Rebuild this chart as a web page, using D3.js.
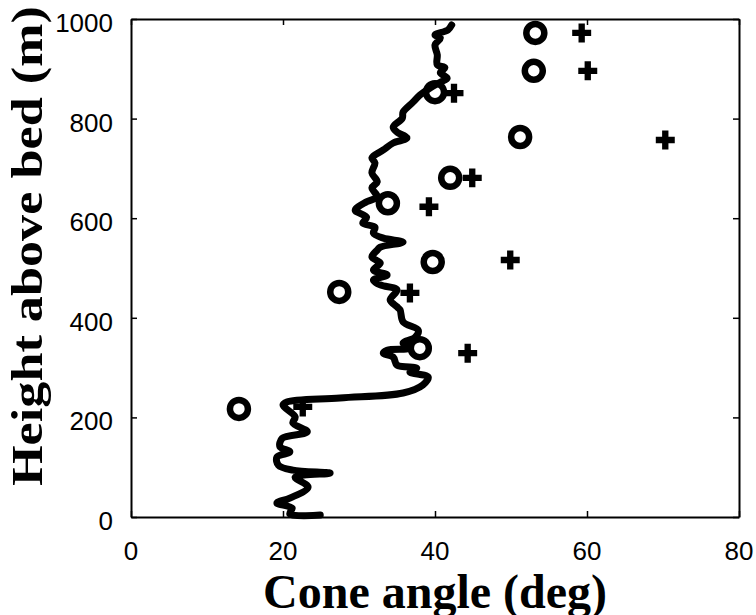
<!DOCTYPE html>
<html>
<head>
<meta charset="utf-8">
<script src="https://cdn.jsdelivr.net/npm/d3@7"></script>
<style>
  body { margin: 0; background: #fff; }
  .tick-label { font-family: "Liberation Sans", Arial, sans-serif; font-size: 26px; fill: #000; }
  .axis-title { font-family: "Liberation Serif", "Times New Roman", serif; font-weight: bold; fill: #000; }
</style>
</head>
<body>
<svg id="chart"></svg>
<script>
const width = 756;
const height = 615;

// profile (solid line), height above bed vs cone angle
const profileHeight = [4, 6, 18, 28, 38, 60, 80, 88, 94, 104, 120, 131, 141, 158, 171, 189, 201, 225, 231, 239, 249, 265, 281, 291, 299, 305, 321, 329, 335, 339, 349, 361, 375, 392, 416, 422, 436, 456, 466, 476, 486, 496, 510, 522, 536, 542, 552, 560, 570, 582, 590, 602, 616, 633, 643, 661, 673, 691, 711, 721, 737, 751, 761, 773, 783, 801, 813, 833, 847, 861, 873, 881, 892, 902, 908, 928, 948, 962, 968, 978, 988];
const profileAngle = [24.9, 20.9, 21.2, 19.2, 20.9, 23.3, 21.6, 26.2, 21.3, 19.4, 19.2, 20.9, 19.6, 19.9, 23.2, 21.3, 21.6, 20.0, 20.5, 27.5, 35.8, 38.4, 39.1, 36.7, 37.6, 35.0, 34.5, 33.2, 33.7, 36.7, 35.8, 37.4, 37.8, 35.8, 35.4, 35.0, 34.1, 35.0, 32.8, 31.9, 33.7, 31.9, 32.8, 31.7, 32.4, 32.8, 35.8, 33.2, 31.9, 32.1, 30.5, 31.0, 29.5, 31.0, 32.4, 31.7, 32.4, 31.7, 32.1, 31.7, 33.2, 34.5, 36.3, 35.0, 34.5, 35.7, 35.8, 37.1, 38.0, 39.3, 40.7, 41.6, 40.7, 41.3, 40.3, 40.3, 40.0, 40.7, 40.0, 41.7, 42.2];

// circle markers
const circleAngle = [53.2, 53.0, 40.0, 51.2, 42.0, 33.8, 39.7, 27.4, 38.0, 14.2];
const circleHeight = [972, 896, 853, 763, 681, 630, 512, 452, 339, 217];

// plus markers
const plusAngle = [59.3, 60.1, 42.5, 70.3, 44.9, 39.2, 49.9, 36.7, 44.3, 22.6];
const plusHeight = [972, 896, 851, 757, 681, 623, 516, 450, 329, 221];

const xTicks = [0, 20, 40, 60, 80];
const yTicks = [0, 200, 400, 600, 800, 1000];

const margin = {left: 131, right: 17, top: 19, bottom: 98};

var svg = d3.select("#chart").attr("width", width).attr("height", height);

var x = d3.scaleLinear().domain([0, 80]).range([margin.left, width - margin.right]);
var y = d3.scaleLinear().domain([0, 1000]).range([height - margin.bottom, margin.top]);

// frame and inward ticks on all four sides
function drawAxis(axis, tx, ty) {
    svg.append("g")
        .attr("transform", "translate(" + tx + "," + ty + ")")
        .call(axis)
        .call(g => g.selectAll("text").remove())
        .call(g => g.select(".domain").attr("stroke-width", 2).attr("stroke", "#000"))
        .call(g => g.selectAll(".tick line").attr("stroke-width", 1.5).attr("stroke", "#000"));
}
drawAxis(d3.axisBottom(x).tickValues(xTicks).tickSize(-6).tickSizeOuter(0), 0, y(0));
drawAxis(d3.axisTop(x).tickValues(xTicks).tickSize(-6).tickSizeOuter(0), 0, y(1000));
drawAxis(d3.axisLeft(y).tickValues(yTicks).tickSize(-6).tickSizeOuter(0), x(0), 0);
drawAxis(d3.axisRight(y).tickValues(yTicks).tickSize(-6).tickSizeOuter(0), x(80), 0);

// tick labels
svg.selectAll(".xlab")
    .data(xTicks)
    .enter().append("text")
    .attr("class", "tick-label")
    .attr("x", d => x(d))
    .attr("y", 560)
    .attr("text-anchor", "middle")
    .text(d => d);

svg.selectAll(".ylab")
    .data(yTicks)
    .enter().append("text")
    .attr("class", "tick-label")
    .attr("x", 113)
    .attr("y", d => y(d) + 13)
    .attr("text-anchor", "end")
    .text(d => d);

// solid profile
var profile = profileHeight.map((h, i) => ({h: h, a: profileAngle[i]}));
var line = d3.line()
    .x(d => x(d.a))
    .y(d => y(d.h))
    .curve(d3.curveCatmullRom.alpha(0.5));

svg.append("path")
    .datum(profile)
    .attr("fill", "none")
    .attr("stroke", "#000")
    .attr("stroke-width", 7)
    .attr("stroke-linejoin", "round")
    .attr("stroke-linecap", "round")
    .attr("d", line);

// circles
svg.selectAll(".circ")
    .data(circleAngle)
    .enter().append("circle")
    .attr("cx", d => x(d))
    .attr("cy", (d, i) => y(circleHeight[i]))
    .attr("r", 9)
    .attr("fill", "none")
    .attr("stroke", "#000")
    .attr("stroke-width", 6.5);

// plus markers
var cross = d3.symbol().type(d3.symbolCross).size(200);
svg.selectAll(".plus")
    .data(plusAngle)
    .enter().append("path")
    .attr("transform", (d, i) => "translate(" + x(d) + "," + y(plusHeight[i]) + ")")
    .attr("d", cross)
    .attr("fill", "#000");

// axis titles
svg.append("text")
    .attr("class", "axis-title")
    .attr("x", (x(0) + x(80)) / 2)
    .attr("y", 608)
    .attr("text-anchor", "middle")
    .style("font-size", "48px")
    .text("Cone angle (deg)");

svg.append("text")
    .attr("class", "axis-title")
    .attr("transform", "translate(42,246) rotate(-90)")
    .attr("text-anchor", "middle")
    .attr("textLength", 480)
    .attr("lengthAdjust", "spacingAndGlyphs")
    .style("font-size", "45px")
    .text("Height above bed (m)");
</script>
</body>
</html>
